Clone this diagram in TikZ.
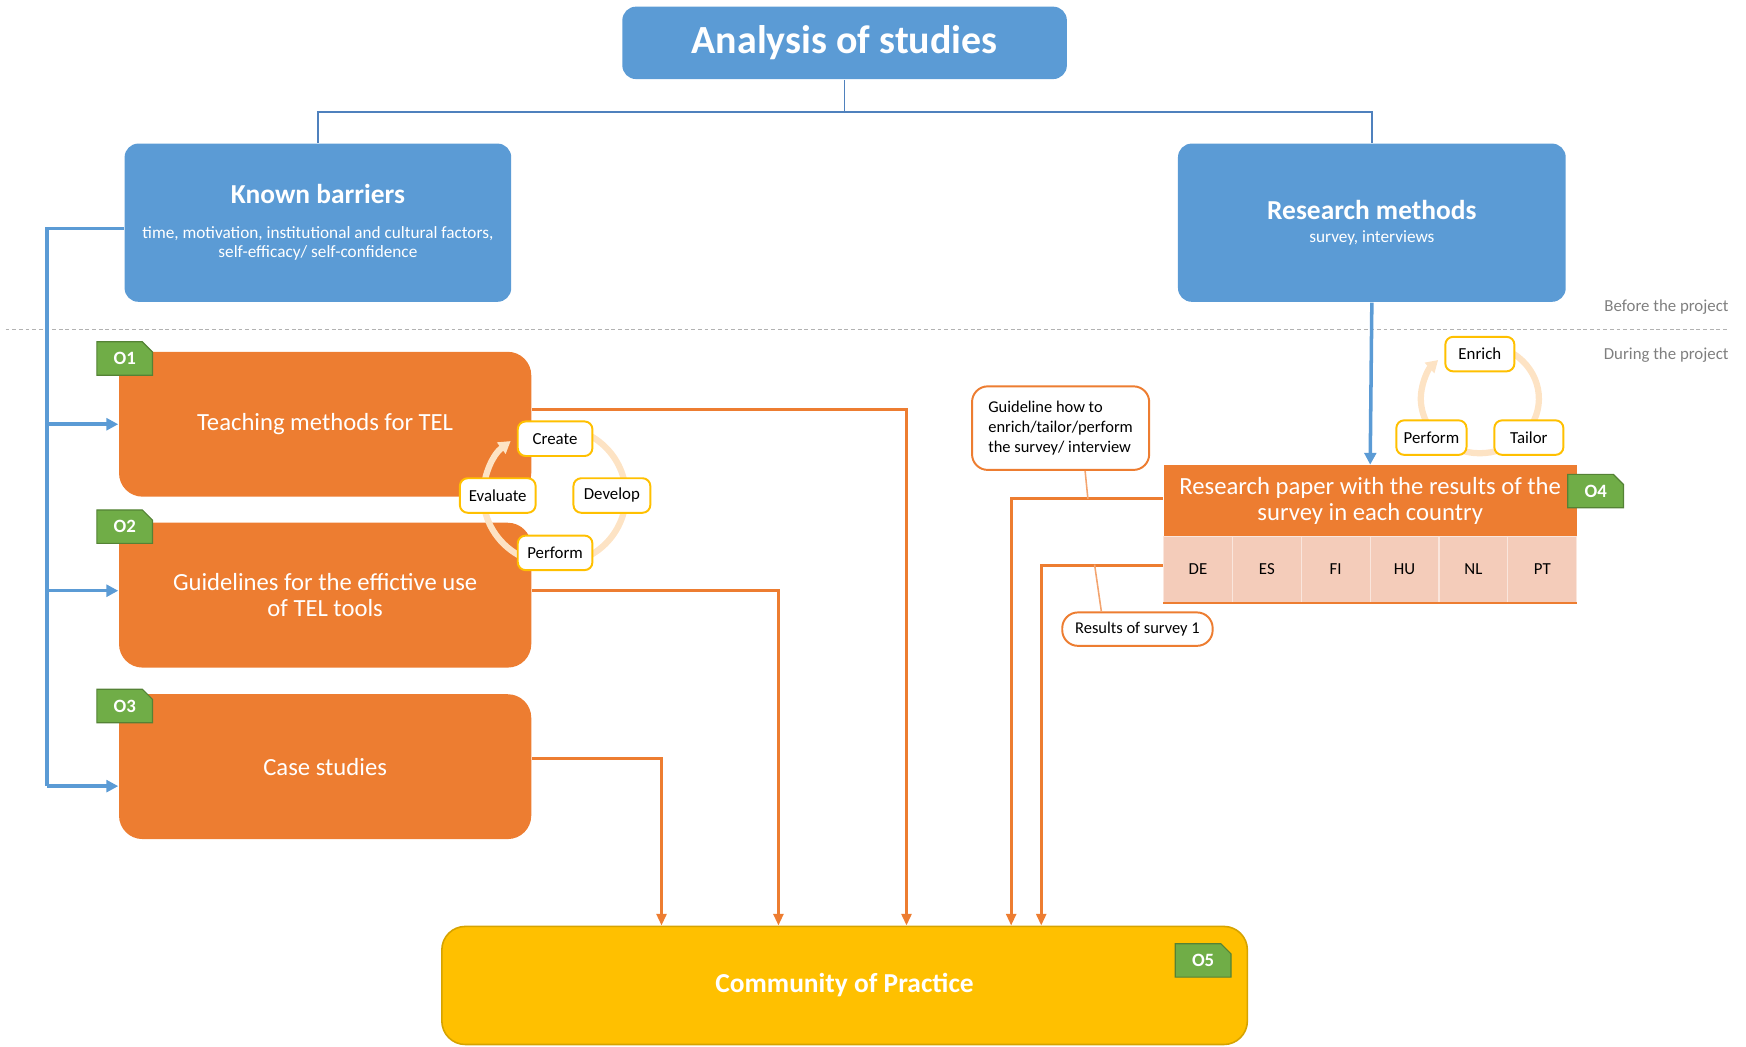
\documentclass[tikz,border=0pt]{standalone}
\usepackage{fontspec}
\setmainfont{Carlito}
\usetikzlibrary{positioning,calc,arrows.meta,shapes.misc}
\definecolor{boxblue}{HTML}{5B9BD5}
\definecolor{lineblue}{HTML}{4F81BD}
\definecolor{outorange}{HTML}{ED7D31}
\definecolor{copgold}{HTML}{FFC000}
\definecolor{copedge}{HTML}{D6A300}
\definecolor{taggreen}{HTML}{70AD47}
\definecolor{tagedge}{HTML}{548235}
\definecolor{cellpink}{HTML}{F4CCBA}
\definecolor{ringpeach}{HTML}{FDE3C4}
\definecolor{notegray}{HTML}{7F7F7F}

\tikzset{
  headbox/.style={fill=boxblue, text=white, rounded corners=3.5pt, inner sep=0pt, align=center},
  outbox/.style={fill=outorange, text=white, rounded corners=6pt, minimum width=3.7cm, minimum height=1.3cm, inner sep=0pt, align=center, font=\fontsize{6.3}{6.8}\selectfont},
  tag/.style={chamfered rectangle, chamfered rectangle corners=north east, chamfered rectangle xsep=1.3pt, chamfered rectangle ysep=1.3pt, fill=taggreen, draw=tagedge, line width=0.3pt, text=white, minimum width=0.5cm, minimum height=0.3cm, inner sep=0pt, font=\bfseries\fontsize{4.8}{5}\selectfont},
  cycbox/.style={fill=white, draw=copgold, line width=0.5pt, rounded corners=2pt, minimum height=0.31cm, inner sep=0pt, font=\fontsize{4.3}{5}\selectfont},
  ring/.style={draw=ringpeach, line width=1.6pt, -{Triangle[length=3pt,width=3.5pt]}},
  note/.style={fill=white, draw=outorange, line width=0.5pt, rounded corners=4pt, inner sep=0pt, align=left, font=\fontsize{4.2}{5.1}\selectfont},
  cell/.style={fill=cellpink, draw=cellpink!50!white, line width=0.3pt, minimum width=0.618cm, minimum height=0.59cm, inner sep=0pt, font=\fontsize{4.3}{5}\selectfont},
  oline/.style={draw=outorange, line width=0.8pt, -{Triangle[length=3pt,width=2.5pt]}},
  bline/.style={draw=boxblue, line width=0.9pt},
  phase/.style={text=notegray, anchor=east, inner sep=0pt, font=\fontsize{4.3}{5}\selectfont}
}

\begin{document}
\begin{tikzpicture}[x=0.01cm, y=-0.01cm]
\useasboundingbox (0,0) rectangle (1568,940);

\node[headbox, minimum width=3.99cm, minimum height=0.65cm, font=\bfseries\fontsize{10.2}{12}\selectfont] (title) at (758.5,38.5) {Analysis of studies};
\node[headbox, minimum width=3.47cm, minimum height=1.42cm, font=\fontsize{4.4}{4.9}\selectfont] (kb) at (285.5,200)
  {{\bfseries\fontsize{7}{8}\selectfont Known barriers}\\[4pt]time, motivation, institutional and cultural factors,\\self-efficacy/ self-confidence};
\node[headbox, minimum width=3.48cm, minimum height=1.42cm, font=\fontsize{4.4}{4.9}\selectfont] (rm) at (1232,200)
  {{\bfseries\fontsize{7}{8}\selectfont Research methods}\\[0.8pt]survey, interviews};

\draw[lineblue, line width=0.4pt] (title.south) -- ++(0,29) -| (kb.north);
\draw[lineblue, line width=0.4pt] (title.south) -- ++(0,29) -| (rm.north);

\draw[notegray!60, line width=0.4pt, dash pattern=on 1pt off 0.7pt] (5,296) -- (1553,296);
\node[phase] (before) at (1553,276) {Before the project};
\node[phase] (during) at (1553,319) {During the project};

\node[outbox] (o1) at (292,381) {Teaching methods for TEL};
\node[outbox] (o2) at (292,534.5) {Guidelines for the effictive use\\of TEL tools};
\node[outbox] (o3) at (292,688.5) {Case studies};
\node[tag] at (112,322) {O1};
\node[tag] at (112,473) {O2};
\node[tag] at (112,634) {O3};

\node[fill=copgold, draw=copedge, line width=0.4pt, rounded corners=6pt, minimum width=7.23cm, minimum height=1.06cm, text=white, font=\bfseries\fontsize{7}{8}\selectfont] (cop) at (758.5,885) {Community of Practice};
\node[tag] at (1080.5,862.5) {O5};

\node[fill=outorange, text=white, minimum width=3.71cm, minimum height=0.64cm, inner sep=0pt, align=center, font=\fontsize{6.3}{6.8}\selectfont] (paper) at (1230.5,450)
  {Research paper with the results of the\\survey in each country};
\foreach \c [count=\i from 0] in {DE,ES,FI,HU,NL,PT}
  \node[cell] (c\i) at (1045+30.9+\i*61.83,511.5) {\c};
\draw[outorange, line width=0.6pt] (c0.south west) -- (c5.south east);
\node[tag] at (1433,441) {O4};

\coordinate (rail) at (42,706);
\draw[bline] ($(kb.west)+(0,5)$) -| (rail);
\draw[bline, -{Triangle[length=3pt,width=3pt]}] (rail |- o1.west) -- (o1.west);
\draw[bline, -{Triangle[length=3pt,width=3pt]}] ($(rail |- o2.west)+(0,-4)$) -- ($(o2.west)+(0,-4)$);
\draw[bline, -{Triangle[length=3pt,width=3pt]}] (rail) -- (rail -| o3.west);
\draw[bline, -{Triangle[length=3pt,width=3pt]}] (rm.south) -- (paper.north);

\draw[oline] ($(o1.east)+(0,-13)$) -| ($(cop.north west)+(418,0)$);
\draw[oline] ($(o2.east)+(0,-4)$) -| ($(cop.north west)+(303,0)$);
\draw[oline] ($(o3.east)+(0,-7)$) -| ($(cop.north west)+(198,0)$);
\draw[oline] ($(paper.west)+(0,-2)$) -| ($(cop.north west)+(512,0)$);
\draw[oline] ($(c0.west)+(0,-4)$) -| ($(cop.north west)+(539,0)$);

\coordinate (c1c) at (498,445);
\draw[ring] ([shift={(60:0.64cm and 0.62cm)}]c1c) arc[start angle=60, end angle=-232, x radius=0.64cm, y radius=0.62cm];
\node[cycbox, minimum width=0.67cm] (create) at (498.5,394) {Create};
\node[cycbox, minimum width=0.69cm] (develop) at (549.5,445) {Develop};
\node[cycbox, minimum width=0.67cm] (perform) at (498.5,496.5) {Perform};
\node[cycbox, minimum width=0.68cm] (evaluate) at (447,445) {Evaluate};

\coordinate (c2c) at (1329,358);
\draw[ring] ([shift={(55:0.53cm and 0.49cm)}]c2c) arc[start angle=55, end angle=-225, x radius=0.53cm, y radius=0.49cm];
\node[cycbox, minimum width=0.62cm] (enrich) at (1329,318) {Enrich};
\node[cycbox, minimum width=0.63cm] (perform2) at (1285.5,393) {Perform};
\node[cycbox, minimum width=0.62cm] (tailor) at (1373,393) {Tailor};

\node[note, minimum width=1.59cm, minimum height=0.75cm] (guide) at (952.5,384.5) {Guideline how to\\enrich/tailor/perform\\the survey/ interview};
\node[note, minimum width=1.35cm, minimum height=0.30cm] (res) at (1021.5,565) {Results of survey 1};
\coordinate (gp) at (977,448);
\coordinate (rp) at (983,507);
\draw[outorange!70, line width=0.4pt] ($(guide.south)+(22,0)$) -- (gp);
\draw[outorange!70, line width=0.4pt] ($(res.north west)+(36,0)$) -- (rp);
\end{tikzpicture}
\end{document}
